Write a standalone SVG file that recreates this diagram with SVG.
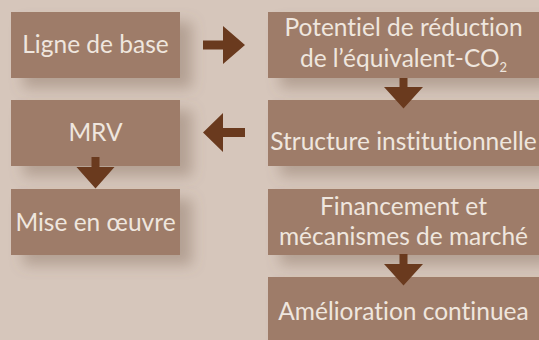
<svg xmlns="http://www.w3.org/2000/svg" width="539" height="340" viewBox="0 0 539 340">
<defs>
<filter id="sh" x="-20%" y="-40%" width="160%" height="200%">
<feDropShadow dx="12" dy="10" stdDeviation="7" flood-color="#7a6253" flood-opacity="0.38"/>
</filter>
</defs>
<style>
.box{fill:#9e7c69;filter:url(#sh)}
.t{font-family:Lato,"Open Sans","DejaVu Sans",sans-serif;font-size:24.5px;fill:#efe6de;text-anchor:middle;font-variant-ligatures:none;font-feature-settings:"liga" 0,"clig" 0}
.arr{fill:#6a3a1e}
</style>
<rect width="539" height="340" fill="#d6c6bb"/>
<g id="n1"><rect class="box" x="11" y="12" width="169" height="66"/><text class="t" x="95.5" y="53">Ligne de base</text></g>
<g id="n2"><rect class="box" x="268" y="12" width="271" height="66"/><text class="t" x="403.5" y="36">Potentiel de réduction</text><text class="t" x="403.5" y="67">de l’équivalent-CO<tspan font-size="13" dy="5">2</tspan></text></g>
<g id="n3"><rect class="box" x="268" y="100" width="271" height="66"/><text class="t" x="403.5" y="150">Structure institutionnelle</text></g>
<g id="n4"><rect class="box" x="11" y="100" width="169" height="66"/><text class="t" x="95.5" y="141">MRV</text></g>
<g id="n5"><rect class="box" x="11" y="189" width="169" height="66"/><text class="t" x="95.5" y="231">Mise en œuvre</text></g>
<g id="n6"><rect class="box" x="268" y="189" width="271" height="66"/><text class="t" x="403.5" y="215">Financement et</text><text class="t" x="403.5" y="245">mécanismes de marché</text></g>
<g id="n7"><rect class="box" x="268" y="277" width="271" height="70"/><text class="t" x="403.5" y="320">Amélioration continuea</text></g>
<g id="connectors">
<polygon class="arr" points="203,40.5 223,40.5 223,26 245,45 223,64 223,49.5 203,49.5"/>
<polygon class="arr" points="245,128 223,128 223,113 203,132.5 223,152 223,137 245,137"/>
<polygon class="arr" points="91.5,157 99.5,157 99.5,167 114.5,167 95.5,188.5 76.5,167 91.5,167"/>
<polygon class="arr" points="399.5,78 407.5,78 407.5,87 423,87 403.5,108.5 384,87 399.5,87"/>
<polygon class="arr" points="399.5,254 407.5,254 407.5,264 423,264 403.5,285.5 384,264 399.5,264"/>
</g>
</svg>
